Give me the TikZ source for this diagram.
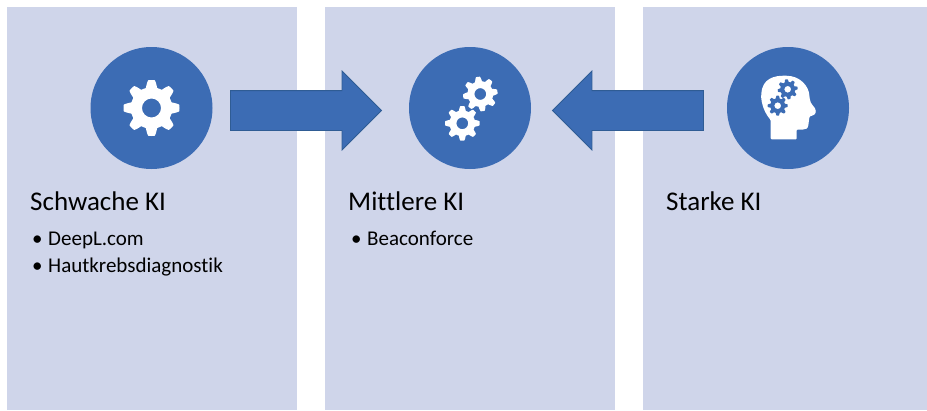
\documentclass[tikz,border=0pt]{standalone}
\usepackage{fontspec}
\setmainfont[Ligatures=NoCommon]{Carlito}
\usetikzlibrary{shapes.arrows}
\definecolor{panelblue}{HTML}{CFD5EA}
\definecolor{iconblue}{HTML}{3C6CB4}
\definecolor{arrowline}{HTML}{2F5C94}
\tikzset{%
  panel/.style={fill=panelblue,draw=none,inner sep=0pt,minimum height=403pt},
  disc/.style={circle,fill=iconblue,draw=none,inner sep=0pt,minimum size=122pt},
  blockarrow/.style={single arrow,fill=iconblue,draw=arrowline,line width=0.8pt,inner sep=19.5pt,
    single arrow head extend=19.5pt,single arrow head indent=0pt,minimum height=151pt},
  title/.style={anchor=base west,inner sep=0pt,font=\fontsize{27}{27}\selectfont},
  entry/.style={anchor=base west,inner sep=0pt,font=\fontsize{21}{21}\selectfont},
  pics/cog/.style n args={3}{code={%
      \fill[#3,even odd rule] plot[domain=0:360,samples=241,smooth]
        ({(#1*(0.87+0.13*max(-1,min(1,1.7*cos(8*(\x+#2)))))*cos(\x)},{(#1*(0.87+0.13*max(-1,min(1,1.7*cos(8*(\x+#2)))))*sin(\x)})
        -- cycle (0,0) circle ({0.34*#1});
  }},
}
\newcommand{\bulletitem}[3]{%
  \node[entry] (#1) at #2 {\makebox[18pt][l]{\hspace{2pt}\textbullet}#3};%
}
\begin{document}
\begin{tikzpicture}[x=1pt,y=-1pt]%
  \useasboundingbox[fill=white] (0,0) rectangle (927,410);
  % columns
  \node[panel,minimum width=290pt] (weakpanel) at (152,208.5) {};
  \node[panel,minimum width=290pt] (midpanel) at (470,208.5) {};
  \node[panel,minimum width=284pt] (strongpanel) at (785,208.5) {};
  % arrows
  \node[blockarrow] (weakarrow) at (296,110.5) {};
  \node[blockarrow,shape border rotate=180] (strongarrow) at (638,110.5) {};
  % discs
  \node[disc] (weakdisc) at (151.5,108) {};
  \node[disc] (middisc) at (470,108) {};
  \node[disc] (strongdisc) at (788,108) {};
  % icons
  \pic at (weakdisc.center) {cog={28}{0}{white}};
  \pic at (480.3,94) {cog={17.3}{8}{white}};
  \pic at (462.3,123.3) {cog={17.3}{0}{white}};
  \fill[white,rounded corners=1pt] (770.7,139.3)
    -- (770.7,120) .. controls (762,110) and (761,98) .. (761.3,95)
    .. controls (762,78) and (775,75.7) .. (785,75.7)
    .. controls (800,75.7) and (809,86) .. (809.5,97)
    .. controls (810,105) and (816,107) .. (815.7,112)
    .. controls (815,115) and (811,116) .. (809.5,116.5)
    -- (808.5,124) .. controls (808,129) and (805,129.5) .. (802,129.5)
    -- (796.7,129.5) -- (796.7,139.3) -- cycle;
  \pic at (787.7,89.3) {cog={10}{8}{iconblue}};
  \pic at (777.7,105.7) {cog={10}{0}{iconblue}};
  % labels
  \node[title] (weaktitle) at (30,210) {Schwache KI};
  \node[title] (midtitle) at (348,210) {Mittlere KI};
  \node[title] (strongtitle) at (666,210) {Starke KI};
  \bulletitem{deepl}{(30,245)}{DeepL.com}
  \bulletitem{skin}{(30,272)}{Hautkrebsdiagnostik}
  \bulletitem{beacon}{(349,245)}{Beaconforce}
\end{tikzpicture}
\end{document}
